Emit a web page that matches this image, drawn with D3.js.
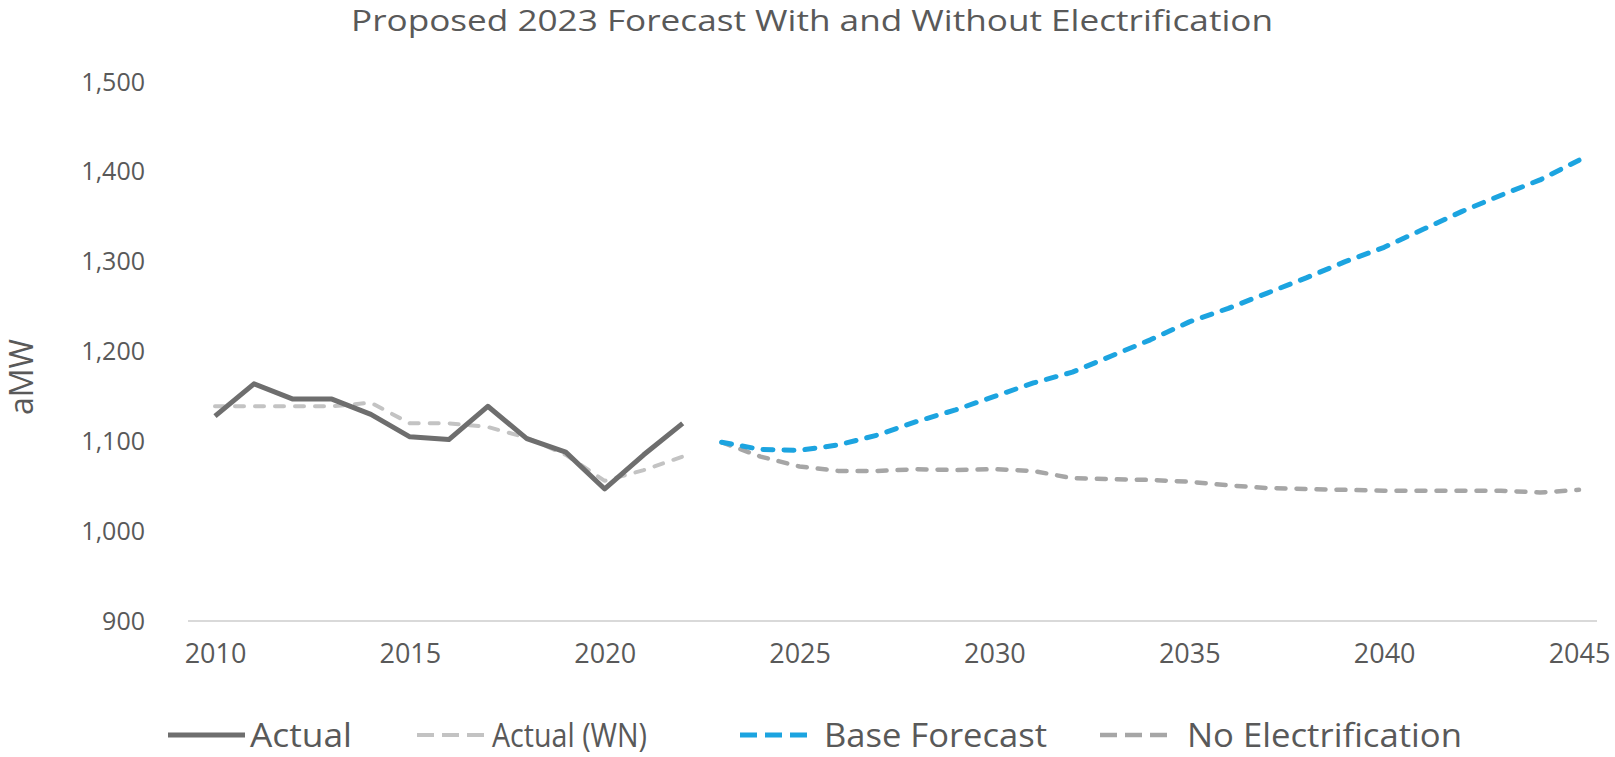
<!DOCTYPE html>
<html>
<head>
<meta charset="utf-8">
<script src="https://cdn.jsdelivr.net/npm/d3@7"></script>
<style>
  body { margin: 0; background: #fff; }
  text { font-family: "Open Sans", "Noto Sans", sans-serif; fill: #595959; }
</style>
</head>
<body>
<div id="chart"></div>
<script>
// data
const actualYears = [2010, 2011, 2012, 2013, 2014, 2015, 2016, 2017, 2018, 2019, 2020, 2021, 2022];
const actual = [1128, 1164, 1147, 1147, 1130, 1105, 1102, 1139, 1103, 1088, 1047, 1085, 1120];
const actualWN = [1139, 1139, 1139, 1139, 1143, 1120, 1120, 1116, 1104, 1085, 1056, 1068, 1083];

const forecastYears = [2023, 2024, 2025, 2026, 2027, 2028, 2029, 2030, 2031, 2032, 2033, 2034,
  2035, 2036, 2037, 2038, 2039, 2040, 2041, 2042, 2043, 2044, 2045];
const baseForecast = [1099, 1091, 1090, 1096, 1107, 1122, 1135, 1150, 1165, 1177, 1195, 1213,
  1233, 1248, 1265, 1282, 1300, 1316, 1336, 1356, 1374, 1391, 1413];
const noElectrification = [1099, 1083, 1072, 1067, 1067, 1069, 1068, 1069, 1067, 1059, 1058, 1057,
  1055, 1051, 1048, 1047, 1046, 1045, 1045, 1045, 1045, 1043, 1046];

const yTicks = [900, 1000, 1100, 1200, 1300, 1400, 1500];
const xTicks = [2010, 2015, 2020, 2025, 2030, 2035, 2040, 2045];

const W = 1615, H = 757;

const x = d3.scaleLinear().domain([2010, 2045]).range([215, 1579]);
const y = d3.scaleLinear().domain([900, 1500]).range([621, 82]);

const svg = d3.select("#chart").append("svg")
    .attr("width", W)
    .attr("height", H);

// title (stretched a bit like the original)
svg.append("text")
    .attr("x", 812)
    .attr("y", 31)
    .attr("text-anchor", "middle")
    .attr("textLength", 922)
    .attr("lengthAdjust", "spacingAndGlyphs")
    .style("font-size", "29px")
    .text("Proposed 2023 Forecast With and Without Electrification");

// y axis label
svg.append("text")
    .attr("transform", "translate(33,377) rotate(-90)")
    .attr("text-anchor", "middle")
    .style("font-size", "32px")
    .text("aMW");

// y tick labels (no gridlines, only the baseline)
const yAxis = d3.axisLeft(y).tickValues(yTicks).tickSize(0).tickPadding(0)
    .tickFormat(d3.format(","));
svg.append("g")
    .attr("transform", "translate(145,0)")
    .call(yAxis)
    .call(g => g.select(".domain").remove())
    .selectAll("text")
    .style("font-size", "25px")
    .style("font-family", "'Open Sans', sans-serif")
    .attr("fill", "#595959");

// x axis
const xAxis = d3.axisBottom(x).tickValues(xTicks).tickSize(0).tickPadding(0)
    .tickFormat(d3.format("d"));
svg.append("g")
    .attr("transform", "translate(0,644)")
    .call(xAxis)
    .call(g => g.select(".domain").remove())
    .selectAll("text")
    .style("font-size", "27px")
    .style("font-family", "'Open Sans', sans-serif")
    .attr("fill", "#595959");

svg.append("line")
    .attr("x1", 188).attr("x2", 1597)
    .attr("y1", y(900)).attr("y2", y(900))
    .attr("stroke", "#d9d9d9")
    .attr("stroke-width", 2);

const line = d3.line()
    .x(d => x(d[0]))
    .y(d => y(d[1]));

const series = [
  {years: actualYears, values: actualWN, color: "#c3c3c3", width: 4, dash: "9,11"},
  {years: actualYears, values: actual, color: "#6e6e6e", width: 5, dash: null},
  {years: forecastYears, values: noElectrification, color: "#a6a6a6", width: 4.5, dash: "9,11"},
  {years: forecastYears, values: baseForecast, color: "#1ca4e0", width: 5, dash: "10,11"}
];

series.forEach(s => {
  svg.append("path")
      .datum(d3.zip(s.years, s.values))
      .attr("fill", "none")
      .attr("stroke", s.color)
      .attr("stroke-width", s.width)
      .attr("stroke-linejoin", "round")
      .attr("stroke-linecap", s.dash ? "round" : "butt")
      .attr("stroke-dasharray", s.dash)
      .attr("d", line);
});

// legend -- text widths squeezed to the original's narrower face
const legendItems = [
  {label: "Actual", color: "#6e6e6e", width: 5, dash: null, x1: 168, x2: 245, tx: 250, len: 102},
  {label: "Actual (WN)", color: "#c3c3c3", width: 4, dash: "17,8", x1: 417, x2: 485, tx: 492, len: 155},
  {label: "Base Forecast", color: "#1ca4e0", width: 5, dash: "17,8", x1: 740, x2: 815, tx: 824, len: 223},
  {label: "No Electrification", color: "#a6a6a6", width: 4.5, dash: "17,8", x1: 1100, x2: 1175, tx: 1187, len: 275}
];
const ly = 735;
const legend = svg.append("g");
legendItems.forEach(d => {
  legend.append("line")
      .attr("x1", d.x1).attr("x2", d.x2)
      .attr("y1", ly).attr("y2", ly)
      .attr("stroke", d.color)
      .attr("stroke-width", d.width)
      .attr("stroke-dasharray", d.dash);
  legend.append("text")
      .attr("x", d.tx)
      .attr("y", ly)
      .attr("dy", "0.35em")
      .attr("textLength", d.len)
      .attr("lengthAdjust", "spacingAndGlyphs")
      .style("font-size", "33px")
      .text(d.label);
});
</script>
</body>
</html>
